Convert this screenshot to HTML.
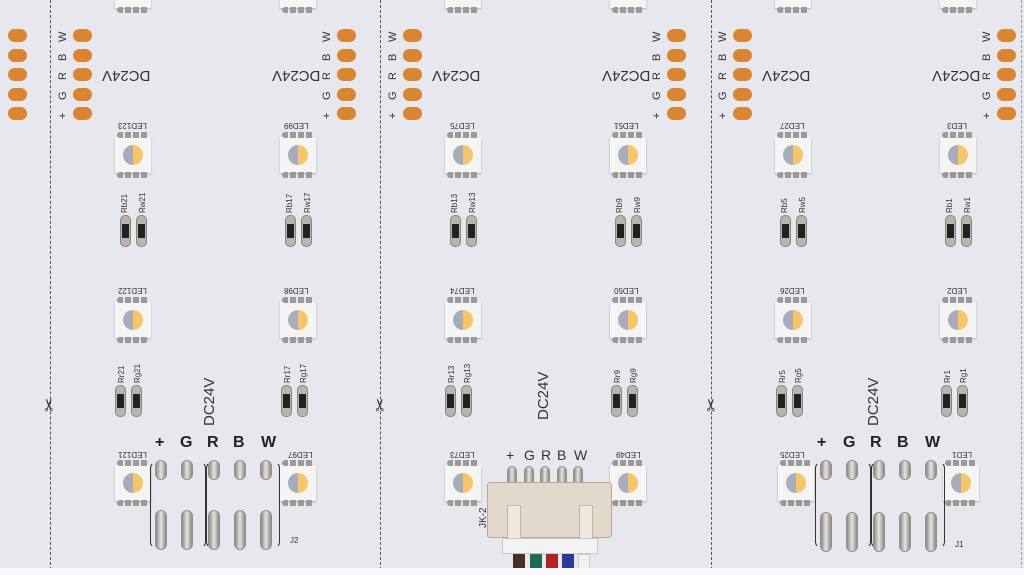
<!DOCTYPE html>
<html><head><meta charset="utf-8"><style>
*{margin:0;padding:0;box-sizing:border-box}
body{width:1024px;height:575px;overflow:hidden;background:#e7e8ed;position:relative;font-family:"Liberation Sans",sans-serif;color:#333}
div,span{position:absolute}
.dash{top:0;height:575px;width:0;border-left:1.5px dashed #555}
.led{width:36px;height:36px;background:#f4f4f2;box-shadow:0 1px 2px rgba(0,0,0,.25)}
.led:before,.led:after{content:"";position:absolute;left:2px;width:32px;height:6px;background:repeating-linear-gradient(90deg,#9a9a96 0 6px,transparent 6px 8px);border-radius:3px}
.led:before{top:-5px}.led:after{bottom:-5px}
.led i{position:absolute;left:8px;top:8px;width:20px;height:20px;border-radius:50%;background:linear-gradient(90deg,#a9adbb 0 50%,#f5c56a 50%)}
.res{width:11px;height:32px;border-radius:5px;background:#b9b4ac;border:1px solid #8a857d}
.res:after{content:"";position:absolute;left:1px;top:8px;width:7px;height:14px;background:#222}
.pad{width:19px;height:13px;border-radius:7px;background:#d98531}
.t{font-size:11px;white-space:nowrap;color:#333}
.up{transform:rotate(180deg)}
.sm{font-size:8px;white-space:nowrap;color:#333}
.vl{transform:rotate(-90deg);transform-origin:left top}
.pin{width:12px;border-radius:6px;background:linear-gradient(90deg,#8a8a88,#e3e3e0 50%,#8a8a88);border:1px solid #9a8f84}
.big{font-size:16px;font-weight:bold;color:#222}
</style></head><body>

<div class="dash" style="left:50px"></div>
<div class="dash" style="left:380px"></div>
<div class="dash" style="left:711px"></div>
<div class="dash" style="left:1021px;border-color:#999"></div>

<div class="pad" style="left:8px;top:29px"></div><div class="pad" style="left:8px;top:49px"></div><div class="pad" style="left:8px;top:68px"></div><div class="pad" style="left:8px;top:88px"></div><div class="pad" style="left:8px;top:107px"></div>

<div class="pad" style="left:73px;top:29px"></div><div class="pad" style="left:73px;top:49px"></div><div class="pad" style="left:73px;top:68px"></div><div class="pad" style="left:73px;top:88px"></div><div class="pad" style="left:73px;top:107px"></div>
<div class="pad" style="left:337px;top:29px"></div><div class="pad" style="left:337px;top:49px"></div><div class="pad" style="left:337px;top:68px"></div><div class="pad" style="left:337px;top:88px"></div><div class="pad" style="left:337px;top:107px"></div>
<div class="pad" style="left:403px;top:29px"></div><div class="pad" style="left:403px;top:49px"></div><div class="pad" style="left:403px;top:68px"></div><div class="pad" style="left:403px;top:88px"></div><div class="pad" style="left:403px;top:107px"></div>
<div class="pad" style="left:667px;top:29px"></div><div class="pad" style="left:667px;top:49px"></div><div class="pad" style="left:667px;top:68px"></div><div class="pad" style="left:667px;top:88px"></div><div class="pad" style="left:667px;top:107px"></div>
<div class="pad" style="left:733px;top:29px"></div><div class="pad" style="left:733px;top:49px"></div><div class="pad" style="left:733px;top:68px"></div><div class="pad" style="left:733px;top:88px"></div><div class="pad" style="left:733px;top:107px"></div>
<div class="pad" style="left:997px;top:29px"></div><div class="pad" style="left:997px;top:49px"></div><div class="pad" style="left:997px;top:68px"></div><div class="pad" style="left:997px;top:88px"></div><div class="pad" style="left:997px;top:107px"></div>

<div class="t vl" style="left:57px;top:42px">W</div><div class="t vl" style="left:57px;top:61px">B</div><div class="t vl" style="left:57px;top:80px">R</div><div class="t vl" style="left:57px;top:100px">G</div><div class="t vl" style="left:57px;top:119px">+</div>
<div class="t vl" style="left:321px;top:42px">W</div><div class="t vl" style="left:321px;top:61px">B</div><div class="t vl" style="left:321px;top:80px">R</div><div class="t vl" style="left:321px;top:100px">G</div><div class="t vl" style="left:321px;top:119px">+</div>
<div class="t vl" style="left:387px;top:42px">W</div><div class="t vl" style="left:387px;top:61px">B</div><div class="t vl" style="left:387px;top:80px">R</div><div class="t vl" style="left:387px;top:100px">G</div><div class="t vl" style="left:387px;top:119px">+</div>
<div class="t vl" style="left:651px;top:42px">W</div><div class="t vl" style="left:651px;top:61px">B</div><div class="t vl" style="left:651px;top:80px">R</div><div class="t vl" style="left:651px;top:100px">G</div><div class="t vl" style="left:651px;top:119px">+</div>
<div class="t vl" style="left:717px;top:42px">W</div><div class="t vl" style="left:717px;top:61px">B</div><div class="t vl" style="left:717px;top:80px">R</div><div class="t vl" style="left:717px;top:100px">G</div><div class="t vl" style="left:717px;top:119px">+</div>
<div class="t vl" style="left:981px;top:42px">W</div><div class="t vl" style="left:981px;top:61px">B</div><div class="t vl" style="left:981px;top:80px">R</div><div class="t vl" style="left:981px;top:100px">G</div><div class="t vl" style="left:981px;top:119px">+</div>

<div class="t up" style="left:102px;top:67px;font-size:15px">DC24V</div>
<div class="t up" style="left:272px;top:67px;font-size:15px">DC24V</div>
<div class="t up" style="left:432px;top:67px;font-size:15px">DC24V</div>
<div class="t up" style="left:602px;top:67px;font-size:15px">DC24V</div>
<div class="t up" style="left:762px;top:67px;font-size:15px">DC24V</div>
<div class="t up" style="left:932px;top:67px;font-size:15px">DC24V</div>

<div class="led" style="left:115px;top:-28px"></div><div class="led" style="left:280px;top:-28px"></div>
<div class="led" style="left:445px;top:-28px"></div><div class="led" style="left:610px;top:-28px"></div>
<div class="led" style="left:775px;top:-28px"></div><div class="led" style="left:940px;top:-28px"></div>

<div class="led" style="left:115px;top:137px"><i></i></div><div class="led" style="left:280px;top:137px"><i></i></div>
<div class="led" style="left:445px;top:137px"><i></i></div><div class="led" style="left:610px;top:137px"><i></i></div>
<div class="led" style="left:775px;top:137px"><i></i></div><div class="led" style="left:940px;top:137px"><i></i></div>
<div class="sm up" style="left:118px;top:121px">LED123</div><div class="sm up" style="left:284px;top:121px">LED99</div>
<div class="sm up" style="left:450px;top:121px">LED75</div><div class="sm up" style="left:614px;top:121px">LED51</div>
<div class="sm up" style="left:780px;top:121px">LED27</div><div class="sm up" style="left:947px;top:121px">LED3</div>

<div class="res" style="left:120px;top:215px"></div><div class="res" style="left:136px;top:215px"></div>
<div class="res" style="left:285px;top:215px"></div><div class="res" style="left:301px;top:215px"></div>
<div class="res" style="left:450px;top:215px"></div><div class="res" style="left:466px;top:215px"></div>
<div class="res" style="left:615px;top:215px"></div><div class="res" style="left:631px;top:215px"></div>
<div class="res" style="left:780px;top:215px"></div><div class="res" style="left:796px;top:215px"></div>
<div class="res" style="left:945px;top:215px"></div><div class="res" style="left:961px;top:215px"></div>
<div class="sm vl" style="left:120px;top:213px">Rb21</div><div class="sm vl" style="left:138px;top:213px">Rw21</div>
<div class="sm vl" style="left:285px;top:213px">Rb17</div><div class="sm vl" style="left:303px;top:213px">Rw17</div>
<div class="sm vl" style="left:450px;top:213px">Rb13</div><div class="sm vl" style="left:468px;top:213px">Rw13</div>
<div class="sm vl" style="left:615px;top:213px">Rb9</div><div class="sm vl" style="left:633px;top:213px">Rw9</div>
<div class="sm vl" style="left:780px;top:213px">Rb5</div><div class="sm vl" style="left:798px;top:213px">Rw5</div>
<div class="sm vl" style="left:945px;top:213px">Rb1</div><div class="sm vl" style="left:963px;top:213px">Rw1</div>

<div class="led" style="left:115px;top:302px"><i></i></div><div class="led" style="left:280px;top:302px"><i></i></div>
<div class="led" style="left:445px;top:302px"><i></i></div><div class="led" style="left:610px;top:302px"><i></i></div>
<div class="led" style="left:775px;top:302px"><i></i></div><div class="led" style="left:940px;top:302px"><i></i></div>
<div class="sm up" style="left:118px;top:286px">LED122</div><div class="sm up" style="left:284px;top:286px">LED98</div>
<div class="sm up" style="left:450px;top:286px">LED74</div><div class="sm up" style="left:614px;top:286px">LED50</div>
<div class="sm up" style="left:780px;top:286px">LED26</div><div class="sm up" style="left:947px;top:286px">LED2</div>

<div class="res" style="left:115px;top:385px"></div><div class="res" style="left:131px;top:385px"></div>
<div class="res" style="left:281px;top:385px"></div><div class="res" style="left:297px;top:385px"></div>
<div class="res" style="left:445px;top:385px"></div><div class="res" style="left:461px;top:385px"></div>
<div class="res" style="left:611px;top:385px"></div><div class="res" style="left:627px;top:385px"></div>
<div class="res" style="left:776px;top:385px"></div><div class="res" style="left:792px;top:385px"></div>
<div class="res" style="left:941px;top:385px"></div><div class="res" style="left:957px;top:385px"></div>
<div class="sm vl" style="left:117px;top:383px">Rr21</div><div class="sm vl" style="left:133px;top:383px">Rg21</div>
<div class="sm vl" style="left:283px;top:383px">Rr17</div><div class="sm vl" style="left:299px;top:383px">Rg17</div>
<div class="sm vl" style="left:447px;top:383px">Rr13</div><div class="sm vl" style="left:463px;top:383px">Rg13</div>
<div class="sm vl" style="left:613px;top:383px">Rr9</div><div class="sm vl" style="left:629px;top:383px">Rg9</div>
<div class="sm vl" style="left:778px;top:383px">Rr5</div><div class="sm vl" style="left:794px;top:383px">Rg5</div>
<div class="sm vl" style="left:943px;top:383px">Rr1</div><div class="sm vl" style="left:959px;top:383px">Rg1</div>

<div class="t vl" style="left:201px;top:426px;font-size:15px">DC24V</div>
<div class="t vl" style="left:535px;top:420px;font-size:15px">DC24V</div>
<div class="t vl" style="left:865px;top:426px;font-size:15px">DC24V</div>

<div class="t vl" style="left:40px;top:412px;font-size:17px">✂</div>
<div class="t vl" style="left:371px;top:412px;font-size:17px">✂</div>
<div class="t vl" style="left:702px;top:412px;font-size:17px">✂</div>

<div class="led" style="left:115px;top:465px"><i></i></div><div class="led" style="left:280px;top:465px"><i></i></div>
<div class="led" style="left:445px;top:465px"><i></i></div><div class="led" style="left:610px;top:465px"><i></i></div>
<div class="led" style="left:778px;top:465px"><i></i></div><div class="led" style="left:943px;top:465px"><i></i></div>
<div class="sm up" style="left:118px;top:450px">LED121</div><div class="sm up" style="left:288px;top:450px">LED97</div>
<div class="sm up" style="left:450px;top:450px">LED73</div><div class="sm up" style="left:616px;top:450px">LED49</div>
<div class="sm up" style="left:780px;top:450px">LED25</div><div class="sm up" style="left:952px;top:450px">LED1</div>

<div class="big" style="left:155px;top:434px">+</div><div class="big" style="left:180px;top:434px">G</div><div class="big" style="left:207px;top:434px">R</div><div class="big" style="left:233px;top:434px">B</div><div class="big" style="left:261px;top:434px">W</div>
<div style="left:150px;top:462px;width:56px;height:86px;border:1.5px solid #333;border-radius:6px;border-top-color:transparent;border-bottom-color:transparent"></div>
<div style="left:206px;top:462px;width:74px;height:86px;border:1.5px solid #333;border-radius:6px;border-top-color:transparent;border-bottom-color:transparent"></div>
<div class="pin" style="left:155px;top:460px;height:20px"></div><div class="pin" style="left:181px;top:460px;height:20px"></div><div class="pin" style="left:208px;top:460px;height:20px"></div><div class="pin" style="left:234px;top:460px;height:20px"></div><div class="pin" style="left:260px;top:460px;height:20px"></div>
<div class="pin" style="left:155px;top:510px;height:40px"></div><div class="pin" style="left:181px;top:510px;height:40px"></div><div class="pin" style="left:208px;top:510px;height:40px"></div><div class="pin" style="left:234px;top:510px;height:40px"></div><div class="pin" style="left:260px;top:510px;height:40px"></div>
<div class="sm" style="left:290px;top:536px">J2</div>

<div class="big" style="left:817px;top:434px">+</div><div class="big" style="left:843px;top:434px">G</div><div class="big" style="left:870px;top:434px">R</div><div class="big" style="left:897px;top:434px">B</div><div class="big" style="left:925px;top:434px">W</div>
<div style="left:815px;top:462px;width:56px;height:86px;border:1.5px solid #333;border-radius:6px;border-top-color:transparent;border-bottom-color:transparent"></div>
<div style="left:871px;top:462px;width:74px;height:86px;border:1.5px solid #333;border-radius:6px;border-top-color:transparent;border-bottom-color:transparent"></div>
<div class="pin" style="left:820px;top:460px;height:20px"></div><div class="pin" style="left:846px;top:460px;height:20px"></div><div class="pin" style="left:873px;top:460px;height:20px"></div><div class="pin" style="left:899px;top:460px;height:20px"></div><div class="pin" style="left:925px;top:460px;height:20px"></div>
<div class="pin" style="left:820px;top:512px;height:40px"></div><div class="pin" style="left:846px;top:512px;height:40px"></div><div class="pin" style="left:873px;top:512px;height:40px"></div><div class="pin" style="left:899px;top:512px;height:40px"></div><div class="pin" style="left:925px;top:512px;height:40px"></div>
<div class="sm" style="left:955px;top:540px">J1</div>

<div class="t" style="left:506px;top:447px;font-size:14px">+</div><div class="t" style="left:524px;top:447px;font-size:14px">G</div><div class="t" style="left:541px;top:447px;font-size:14px">R</div><div class="t" style="left:557px;top:447px;font-size:14px">B</div><div class="t" style="left:574px;top:447px;font-size:14px">W</div>
<div class="pin" style="left:507px;top:466px;height:28px;width:10px"></div><div class="pin" style="left:524px;top:466px;height:28px;width:10px"></div><div class="pin" style="left:540px;top:466px;height:28px;width:10px"></div><div class="pin" style="left:557px;top:466px;height:28px;width:10px"></div><div class="pin" style="left:573px;top:466px;height:28px;width:10px"></div>
<div style="left:487px;top:482px;width:125px;height:56px;background:#e2d8cc;border:1px solid #b8a894;border-radius:3px"></div>
<div style="left:507px;top:505px;width:14px;height:33px;background:#eee8df;border:1px solid #c4b6a3;border-bottom:none"></div>
<div style="left:579px;top:505px;width:14px;height:33px;background:#eee8df;border:1px solid #c4b6a3;border-bottom:none"></div>
<div style="left:502px;top:538px;width:96px;height:16px;background:#f3f3f3;border:1px solid #c9c9c9"></div>
<div style="left:513px;top:554px;width:12px;height:21px;background:#4a2e22"></div>
<div style="left:530px;top:554px;width:12px;height:21px;background:#1f6a52"></div>
<div style="left:546px;top:554px;width:12px;height:21px;background:#b32222"></div>
<div style="left:562px;top:554px;width:12px;height:21px;background:#2c3a9a"></div>
<div style="left:578px;top:554px;width:12px;height:21px;background:#f2f2f2;border:1px solid #ccc"></div>
<div class="sm vl" style="left:478px;top:528px;font-size:10px">JK-2</div>

<div style="left:0;top:568px;width:1024px;height:7px;background:#fafafa"></div>
</body></html>
